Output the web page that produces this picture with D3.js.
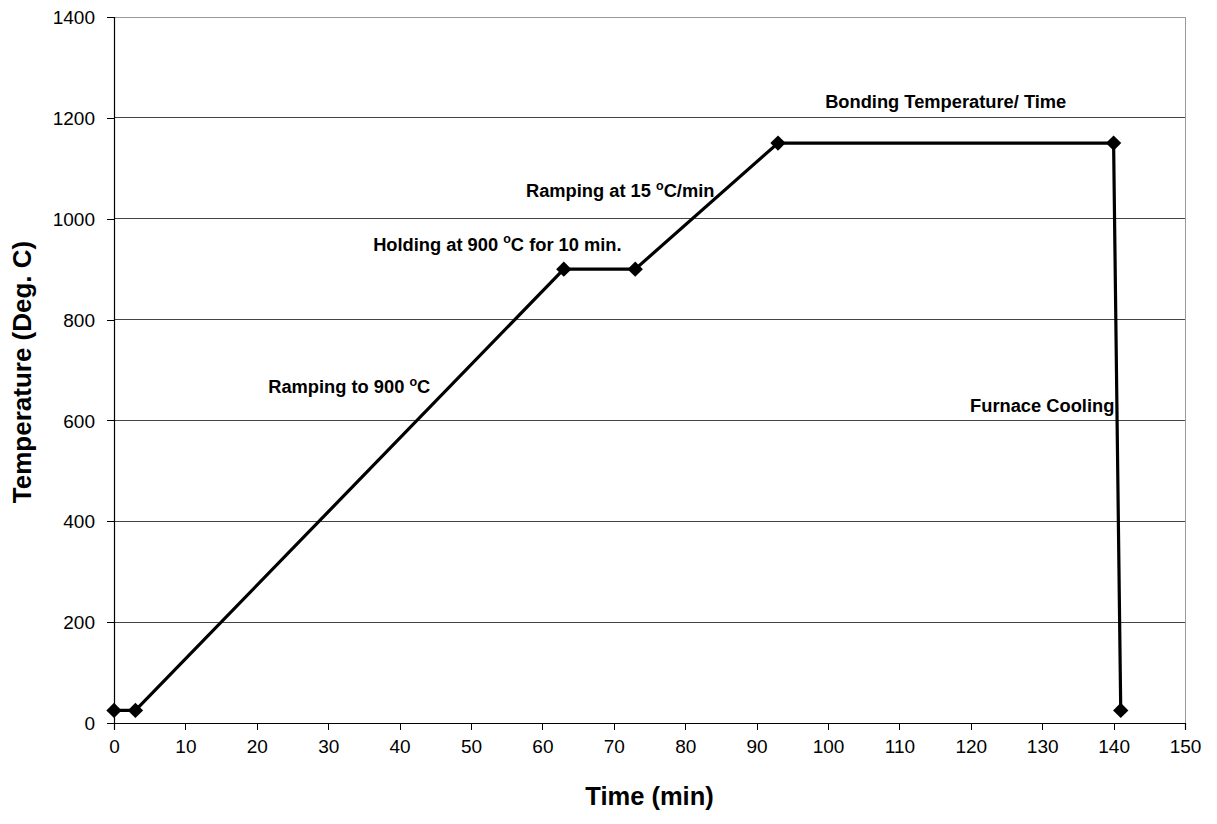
<!DOCTYPE html>
<html>
<head>
<meta charset="utf-8">
<script src="https://cdn.jsdelivr.net/npm/d3@7"></script>
<style>
  html, body { margin: 0; padding: 0; background: #fff; }
  svg { display: block; font-family: "Liberation Sans", Arial, sans-serif; }
</style>
</head>
<body>
<svg id="chart" width="1217" height="824"></svg>
<script>
// ---- data ----
const timeMin = [0, 3, 63, 73, 93, 140, 141];
const tempC   = [25, 25, 900, 900, 1150, 1150, 25];

const xTicks = [0, 10, 20, 30, 40, 50, 60, 70, 80, 90, 100, 110, 120, 130, 140, 150];
const yTicks = [0, 200, 400, 600, 800, 1000, 1200, 1400];

const xTitle = "Time (min)";
const yTitle = "Temperature (Deg. C)";

// annotations: [before-degree text, after-degree text], anchored in data units
const noteText  = [
  ["Bonding Temperature/ Time", null],
  ["Ramping at 15 ", "C/min"],
  ["Holding at 900 ", "C for 10 min."],
  ["Ramping to 900 ", "C"],
  ["Furnace Cooling", null]
];
const noteX = [99.6, 57.7, 36.3, 21.6, 119.9];
const noteY = [1219, 1043, 936, 654, 616];

// ---- layout ----
const margin = {left: 114, right: 1217 - 1185, top: 17, bottom: 824 - 723};
const W = 1217, H = 824;
const svg = d3.select("#chart");

const x = d3.scaleLinear().domain([0, 150]).range([margin.left, W - margin.right]);
const y = d3.scaleLinear().domain([0, 1400]).range([H - margin.bottom, margin.top]);

// gridlines
svg.append("g")
  .selectAll("line")
  .data(yTicks.filter(d => d > 0))
  .join("line")
  .attr("x1", x(0)).attr("x2", x(150))
  .attr("y1", d => y(d)).attr("y2", d => y(d))
  .attr("stroke", d => d === 1400 ? "#999" : "#444")
  .attr("stroke-width", 1)
  .attr("shape-rendering", "crispEdges");

// right border
svg.append("line")
  .attr("x1", x(150)).attr("x2", x(150))
  .attr("y1", y(0)).attr("y2", y(1400))
  .attr("stroke", "#999").attr("shape-rendering", "crispEdges");

// axes
const xAxis = d3.axisBottom(x).tickValues(xTicks).tickSize(7).tickPadding(10).tickFormat(d3.format("d"));
const yAxis = d3.axisLeft(y).tickValues(yTicks).tickSize(7).tickPadding(12).tickFormat(d3.format("d"));

const gx = svg.append("g").attr("transform", `translate(0,${y(0)})`).call(xAxis);
const gy = svg.append("g").attr("transform", `translate(${x(0)},0)`).call(yAxis);
[gx, gy].forEach(g => {
  g.select(".domain").attr("stroke", "#000").attr("stroke-width", 1.2);
  g.selectAll(".tick line").attr("stroke", "#000").attr("shape-rendering", "crispEdges");
  g.selectAll(".tick text").attr("fill", "#000").attr("font-size", 19)
    .attr("font-family", "'Liberation Sans', Arial, sans-serif");
});
gy.selectAll(".tick text").attr("dy", "0.35em");

// axis titles
svg.append("text")
  .attr("x", (x(0) + x(150)) / 2)
  .attr("y", 805)
  .attr("text-anchor", "middle")
  .attr("font-size", 25.5).attr("font-weight", "bold")
  .text(xTitle);

svg.append("text")
  .attr("transform", `translate(31,${(y(0) + y(1400)) / 2 + 2}) rotate(-90)`)
  .attr("text-anchor", "middle")
  .attr("font-size", 26).attr("font-weight", "bold")
  .text(yTitle);

// line
const pts = timeMin.map((t, i) => [t, tempC[i]]);
svg.append("path")
  .datum(pts)
  .attr("fill", "none")
  .attr("stroke", "#000")
  .attr("stroke-width", 3.2)
  .attr("stroke-linejoin", "miter")
  .attr("d", d3.line().x(d => x(d[0])).y(d => y(d[1])));

// diamond markers
svg.append("g")
  .selectAll("path")
  .data(pts)
  .join("path")
  .attr("transform", d => `translate(${x(d[0])},${y(d[1])})`)
  .attr("d", d3.symbol().type(d3.symbolDiamond2).size(150))
  .attr("fill", "#000");

// annotations
const notes = svg.append("g").attr("font-size", 18.3).attr("font-weight", "bold");
noteText.forEach((parts, i) => {
  const t = notes.append("text").attr("x", x(noteX[i])).attr("y", y(noteY[i]));
  t.append("tspan").text(parts[0]);
  if (parts[1] !== null) {
    t.append("tspan").attr("font-size", 12.5).attr("dy", -7.5).text("o");
    t.append("tspan").attr("dy", 7.5).text(parts[1]);
  }
});
</script>
</body>
</html>
